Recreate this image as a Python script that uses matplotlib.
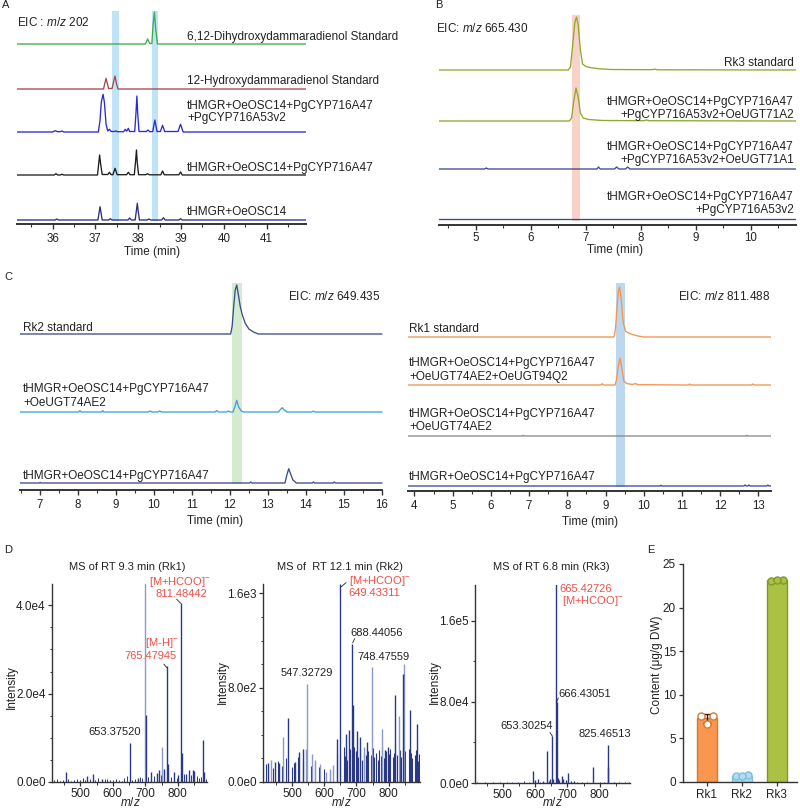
import numpy as np
import matplotlib.pyplot as plt
from matplotlib.ticker import MultipleLocator, FixedLocator

plt.rcParams['font.family'] = ['Liberation Sans', 'DejaVu Sans']
plt.rcParams['mathtext.fontset'] = 'custom'
plt.rcParams['mathtext.rm'] = 'Liberation Sans'
plt.rcParams['mathtext.it'] = 'Liberation Sans:italic'
plt.rcParams['font.size'] = 8.3
plt.rcParams['text.color'] = '#222222'
plt.rcParams['xtick.labelcolor'] = '#222222'
plt.rcParams['ytick.labelcolor'] = '#222222'

# ---------------- data: panel A (EIC m/z 202), time in min, height in px
a_dihydroxy_t = [35.17, 38.17, 38.22, 38.27, 38.32, 38.35, 38.38, 38.41, 38.45, 41.92]
a_dihydroxy_y = [0, 0, 5, 0.5, 0.5, 20, 32, 15, 0, 0]
a_hydroxy_t = [35.17, 37.19, 37.25, 37.31, 37.39, 37.43, 37.46, 37.49, 37.53, 41.92]
a_hydroxy_y = [0, 0, 10.7, 0.5, 0.5, 8, 13, 6, 0, 0]
a_cyp2_t = [35.17, 36.0, 36.06, 36.12, 36.18, 36.22, 36.26, 37.07, 37.11, 37.14,
            37.18, 37.21, 37.25, 37.29, 37.33, 37.37, 37.45, 37.48, 37.51, 37.66,
            37.70, 37.73, 37.77, 37.80, 37.92, 37.95, 37.97, 37.99, 38.02, 38.19,
            38.23, 38.27, 38.34, 38.39, 38.44, 38.52, 38.57, 38.62, 38.93, 38.99,
            39.05, 41.92]
a_cyp2_y = [0, 0, 1.3, 0.3, 0.3, 1, 0, 0, 12, 30,
            37.7, 30, 8, 1, 2.7, 0.5, 0.5, 1.2, 0.3, 0.3,
            2.7, 0.8, 3.7, 0.5, 0.5, 20, 36, 18, 0.5, 0.5,
            2, 0.3, 0.5, 12, 0.5, 0.5, 6.7, 0.5, 0.5, 7.7,
            0, 0]
a_cyp1_t = [35.17, 36.04, 36.08, 36.12, 36.18, 36.22, 36.26, 37.05, 37.08, 37.10,
            37.12, 37.16, 37.29, 37.33, 37.37, 37.41, 37.46, 37.51, 37.73, 37.77,
            37.81, 37.91, 37.94, 37.96, 37.98, 38.01, 38.18, 38.22, 38.26, 38.53,
            38.57, 38.61, 38.95, 38.99, 39.03, 41.92]
a_cyp1_y = [0, 0, 1.3, 0, 0, 0.8, 0, 0, 12, 20,
            12, 0.5, 0.5, 2.7, 0.3, 0.3, 6.7, 0.3, 0.3, 2.7,
            0.3, 0.3, 14, 25, 12, 0.3, 0.3, 1.3, 0.2, 0.2,
            4, 0.2, 0.2, 3, 0, 0]
a_osc_t = [35.17, 36.06, 36.1, 36.14, 37.06, 37.09, 37.11, 37.13, 37.16, 37.31,
           37.35, 37.39, 37.76, 37.8, 37.84, 37.93, 37.96, 37.98, 38.0, 38.03,
           38.21, 38.25, 38.29, 38.55, 38.59, 38.63, 38.95, 38.99, 39.03, 41.92]
a_osc_y = [0, 0, 1, 0, 0, 8, 13.3, 8, 0, 0,
           1.3, 0, 0, 2, 0, 0, 10, 16.7, 9, 0,
           0, 1, 0, 0, 2.3, 0, 0, 1.3, 0, 0]
a_labels = [['6,12-Dihydroxydammaradienol Standard'],
            ['12-Hydroxydammaradienol Standard'],
            ['tHMGR+OeOSC14+PgCYP716A47', '+PgCYP716A53v2'],
            ['tHMGR+OeOSC14+PgCYP716A47'],
            ['tHMGR+OeOSC14']]

# ---------------- panel B (EIC m/z 665.430)
b_rk3_t = [4.33, 6.68, 6.72, 6.76, 6.80, 6.83, 6.86, 6.90, 6.94, 7.0, 7.1, 7.25, 7.45, 8.2, 8.25, 8.3, 10.82]
b_rk3_y = [0, 0, 3, 25, 48, 53, 45, 20, 6, 3.5, 2.2, 1.2, 0.5, 0.3, 0.8, 0.2, 0]
b_a2_t = [4.33, 6.70, 6.74, 6.78, 6.82, 6.86, 6.90, 6.95, 7.05, 7.3, 8.05, 8.1, 8.15, 10.82]
b_a2_y = [0, 0, 3, 20, 33, 24, 8, 3, 1.5, 0.5, 0.3, 1, 0.3, 0]
b_a1_t = [4.33, 5.16, 5.19, 5.22, 7.20, 7.23, 7.26, 7.52, 7.56, 7.60, 7.72, 7.76, 7.80, 10.82]
b_a1_y = [0, 0, 1, 0, 0, 2, 0, 0, 2, 0, 0, 2, 0, 0]
b_ctrl_t = [4.33, 10.82]
b_ctrl_y = [0, 0]
b_labels = [['Rk3 standard'],
            ['tHMGR+OeOSC14+PgCYP716A47', '+PgCYP716A53v2+OeUGT71A2'],
            ['tHMGR+OeOSC14+PgCYP716A47', '+PgCYP716A53v2+OeUGT71A1'],
            ['tHMGR+OeOSC14+PgCYP716A47', '+PgCYP716A53v2']]

# ---------------- panel C left (EIC m/z 649.435)
c_rk2_t = [6.47, 12.02, 12.06, 12.1, 12.14, 12.18, 12.22, 12.27, 12.32, 12.4, 12.5, 12.62, 12.75, 16.0]
c_rk2_y = [0, 0, 8, 28, 44, 49, 40, 28, 20, 11, 5, 2, 0, 0]
c_ae2_t = [6.47, 8.02, 8.05, 8.08, 8.62, 8.65, 8.68, 9.85, 9.9, 9.95,
           10.1, 10.15, 10.2, 11.6, 11.65, 11.7, 11.92, 11.96, 12.0, 12.08,
           12.13, 12.18, 12.23, 12.3, 12.36, 13.28, 13.33, 13.38, 13.43, 13.5,
           14.15, 14.2, 14.25, 16.0]
c_ae2_y = [0, 0, 1.3, 0, 0, 1.3, 0, 0, 1, 0,
           0, 1, 0, 0, 1.3, 0, 0, 1, 0, 0,
           5, 11.7, 5, 1, 0, 0, 2.5, 4.3, 2, 0,
           0, 0.8, 0, 0]
c_ctrl_t = [6.47, 6.98, 7.0, 7.02, 12.52, 12.55, 12.58, 13.45, 13.5, 13.55,
            13.6, 13.66, 13.75, 14.17, 14.2, 14.23, 14.72, 14.75, 14.78, 16.0]
c_ctrl_y = [0, 0, 0.6, 0, 0, 1, 0, 0, 8, 14.3,
            9, 3, 0, 0, 1, 0, 0, 1, 0, 0]
c_labels = [['Rk2 standard'],
            ['tHMGR+OeOSC14+PgCYP716A47', '+OeUGT74AE2'],
            ['tHMGR+OeOSC14+PgCYP716A47']]

# ---------------- panel C right (EIC m/z 811.488)
c_rk1_t = [3.83, 9.22, 9.26, 9.3, 9.34, 9.37, 9.41, 9.46, 9.52, 9.6, 9.7, 9.85, 10.0, 13.33]
c_rk1_y = [0, 0, 8, 30, 47, 50, 38, 15, 6, 4, 2.5, 1, 0, 0]
c_q2_t = [3.83, 8.88, 8.91, 8.94, 9.25, 9.29, 9.33, 9.38, 9.43, 9.48, 9.55,
          9.7, 9.76, 9.8, 9.84, 11.17, 11.2, 11.23, 12.82, 12.85, 12.88, 13.33]
c_q2_y = [0, 0, 1.3, 0, 0, 6, 18, 26.7, 15, 4, 1.5,
          0.5, 1.2, 1.3, 0.3, 0, 1, 0, 0, 1, 0, 0]
c_ae2b_t = [3.83, 6.83, 6.85, 6.87, 12.68, 12.7, 12.72, 13.33]
c_ae2b_y = [0, 0, 0.7, 0, 0, 0.7, 0, 0]
c_ctrlb_t = [3.83, 10.43, 10.45, 10.47, 12.62, 12.65, 12.68, 12.72, 12.75, 12.78, 13.22, 13.25, 13.28, 13.33]
c_ctrlb_y = [0, 0, 0.8, 0, 0, 1, 0, 0, 1, 0, 0, 1, 0, 0]
c2_labels = [['Rk1 standard'],
             ['tHMGR+OeOSC14+PgCYP716A47', '+OeUGT74AE2+OeUGT94Q2'],
             ['tHMGR+OeOSC14+PgCYP716A47', '+OeUGT74AE2'],
             ['tHMGR+OeOSC14+PgCYP716A47']]

# ---------------- panel D: mass spectra (m/z, intensity)
d1_dark_mz = [455, 522, 538.6, 566, 653.4, 677, 701, 717.6, 736, 742, 758.6, 765.5, 770,
              789.5, 800, 811.5, 812.5, 825.6, 833.6, 846, 851, 878, 880]
d1_dark_int = [2260, 1360, 1890, 750, 8830, 980, 15100, 2260, 2040, 2790, 3020, 26200, 4150,
               2260, 1510, 40400, 6570, 1890, 2640, 2640, 2420, 9590, 2260]
d1_light_mz = [700, 750]
d1_light_int = [46000, 7920]
d1_noise_mz = [420, 428, 437, 446, 463, 472, 481, 490, 498, 507, 515, 530, 546, 555, 575,
               583, 591, 600, 609, 618, 627, 636, 645, 660, 668, 684, 690, 708, 726, 748,
               780, 797, 820, 840, 858, 866, 872, 886]
d1_noise_int = [400, 600, 300, 500, 700, 300, 450, 600, 350, 800, 500, 650, 400, 900, 600,
                750, 500, 400, 650, 550, 300, 800, 1300, 500, 700, 1200, 900, 1100, 1400, 1600,
                1200, 1000, 1800, 1500, 1300, 900, 1100, 700]

d2_dark_mz = [488.6, 649.4, 687.5, 689, 843, 820, 866.5, 889, 668, 678, 701, 711, 639,
              787, 799, 732, 522, 535, 426, 447, 460.6, 509]
d2_dark_int = [547, 1680, 1175, 650, 920, 736, 609, 495, 405, 439, 433, 382, 368,
               269, 297, 340, 255, 283, 161, 170, 161, 170]
d2_light_mz = [547.6, 471, 748.5, 848, 434, 542.5, 561, 571, 587, 605.6, 618, 626, 779, 833, 724]
d2_light_int = [835, 382, 977, 1005, 184, 277, 241, 184, 156, 85, 113, 142, 450, 560, 300]
d2_low_mz = [420, 440, 458, 470, 480, 500, 507, 520, 533, 560, 572, 585, 600, 618, 640,
             650, 660, 664, 668, 672, 680, 689, 692, 700, 704, 712, 716, 723, 728, 733,
             737, 745, 750, 754, 762, 766, 770, 775, 780, 784, 790, 800, 805, 812, 816,
             820, 825, 834, 838, 845, 849, 862, 866, 870, 873, 882, 886, 890, 895]
d2_low_int = [150, 120, 180, 140, 200, 130, 160, 210, 180, 140, 170, 130, 110, 90, 250,
              230, 300, 220, 260, 190, 280, 240, 300, 260, 210, 280, 190, 250, 230, 180,
              260, 230, 290, 210, 250, 190, 270, 220, 300, 200, 260, 240, 280, 210, 250,
              320, 230, 270, 210, 300, 260, 280, 220, 250, 200, 230, 270, 180, 240]

d3_mz = [665.4, 666.4, 653.3, 638.5, 825.5, 827, 779, 593, 703, 608.6, 683, 688, 696,
         721, 657, 647, 626, 670, 675, 710, 600, 642]
d3_int = [198000, 80000, 46000, 31600, 37000, 16000, 16000, 11500, 10000, 4300, 6600, 4300, 3300,
          2300, 4300, 3600, 1600, 5000, 3000, 2000, 2500, 2000]
d3_noise_mz = [420, 445, 470, 490, 512, 530, 548, 565, 580, 615, 730, 745, 760, 800, 815, 845, 860, 878, 890]
d3_noise_int = [600, 900, 700, 1100, 800, 1200, 900, 1500, 1000, 1300, 1200, 900, 1100, 1000, 1400,
                1200, 900, 1000, 700]

# ---------------- panel E: content
rk_names = ['Rk1', 'Rk2', 'Rk3']
rk1_points = [7.6, 7.62, 6.7]
rk2_points = [0.72, 0.75, 0.70]
rk3_points = [23.05, 23.15, 23.2]

# ---------------- layout helpers (pixel coordinates, origin top-left)
W, H = 800, 810
fig = plt.figure(figsize=(W / 100, H / 100), dpi=100)


def box(x0, y0, x1, y1):
    return fig.add_axes([x0 / W, 1 - y1 / H, (x1 - x0) / W, (y1 - y0) / H])


def put(x, y, s, ha='left', **kw):
    fig.text(x / W, 1 - y / H, s, ha=ha, va='center', **kw)


def leader(x0, y0, x1, y1):
    fig.add_artist(plt.Line2D([x0 / W, x1 / W], [1 - y0 / H, 1 - y1 / H], color='#222222', lw=0.6))


AX = '#333333'


def chrom(ax, xlim, ytop, pad=3):
    ax.set_xlim(*xlim)
    ax.set_ylim(0, ytop)
    for side in ('top', 'right', 'left'):
        ax.spines[side].set_visible(False)
    ax.spines['bottom'].set_linewidth(1.4)
    ax.spines['bottom'].set_color(AX)
    ax.set_yticks([])
    ax.xaxis.set_major_locator(MultipleLocator(1))
    ax.xaxis.set_minor_locator(MultipleLocator(0.5))
    ax.tick_params(axis='x', which='major', length=3.5, width=1, color=AX, pad=pad)
    ax.tick_params(axis='x', which='minor', length=2, width=0.8, color=AX)
    ax.patch.set_visible(False)


def band(ax, t0, t1, y0, y1, color):
    ax.fill_between([t0, t1], y0, y1, color=color, lw=0, zorder=0)


# ---------------- A
ax = box(17, 8, 306, 224)
chrom(ax, (35.17, 41.92), 216)
band(ax, 37.40, 37.56, 3, 213, '#BFE4F7')
band(ax, 38.32, 38.47, 3, 213, '#BFE4F7')
a_series = [(a_dihydroxy_t, a_dihydroxy_y, '#3FAA4A', 180),
            (a_hydroxy_t, a_hydroxy_y, '#A8474A', 135),
            (a_cyp2_t, a_cyp2_y, '#2B2BD6', 92),
            (a_cyp1_t, a_cyp1_y, '#1E1E1E', 49),
            (a_osc_t, a_osc_y, '#2A2F7E', 4)]
for t, y, c, off in a_series:
    ax.plot(t, np.array(y) + off, color=c, lw=0.95)
a_label_y = [[37], [81], [106.5, 118.5], [168], [212]]
for lines, ys in zip(a_labels, a_label_y):
    for s, yy in zip(lines, ys):
        put(187, yy, s, size=8.5)
put(17, 23, 'EIC : $\\mathit{m/z}$ 202', size=8.5)
put(152, 252, 'Time (min)', ha='center', size=8.5)
put(2, 5, 'A', size=8)

# ---------------- B
ax = box(439, 15, 796, 225)
chrom(ax, (4.33, 10.82), 210, pad=1.5)
band(ax, 6.74, 6.89, 4, 210, '#F8D2C6')
b_series = [(b_rk3_t, b_rk3_y, '#8DAA2C', 155),
            (b_a2_t, b_a2_y, '#8DAA2C', 104),
            (b_a1_t, b_a1_y, '#3A4A8C', 56),
            (b_ctrl_t, b_ctrl_y, '#3A4A8C', 6)]
for t, y, c, off in b_series:
    ax.plot(t, np.array(y) + off, color=c, lw=0.95)
b_label_y = [[63], [102.5, 115], [147, 160.5], [197, 210.5]]
for lines, ys in zip(b_labels, b_label_y):
    for s, yy in zip(lines, ys):
        put(794, yy, s, ha='right', size=8.5)
put(436, 29, 'EIC: $\\mathit{m/z}$ 665.430', size=8.5)
put(615, 250, 'Time (min)', ha='center', size=8.5)
put(435, 5, 'B', size=8)

# ---------------- C left
ax = box(20, 283, 382.5, 490)
chrom(ax, (6.47, 16.02), 207)
band(ax, 12.06, 12.31, 6, 207, '#D4EBD0')
c_series = [(c_rk2_t, c_rk2_y, '#3C4C8C', 156),
            (c_ae2_t, c_ae2_y, '#3FA0DF', 78),
            (c_ctrl_t, c_ctrl_y, '#3C4C8C', 7)]
for t, y, c, off in c_series:
    ax.plot(t, np.array(y) + off, color=c, lw=0.95)
c_label_y = [[328], [389, 403], [476]]
for lines, ys in zip(c_labels, c_label_y):
    for s, yy in zip(lines, ys):
        put(23, yy, s, size=8.5)
put(380, 297, 'EIC: $\\mathit{m/z}$ 649.435', ha='right', size=8.5)
put(215, 521, 'Time (min)', ha='center', size=8.5)
put(4, 277, 'C', size=8)

# ---------------- C right
ax = box(408, 283, 771, 491)
chrom(ax, (3.83, 13.33), 208)
band(ax, 9.27, 9.51, 4, 208, '#BCD7EE')
c2_series = [(c_rk1_t, c_rk1_y, '#F4944E', 154),
             (c_q2_t, c_q2_y, '#F4944E', 106),
             (c_ae2b_t, c_ae2b_y, '#8A8A8A', 55),
             (c_ctrlb_t, c_ctrlb_y, '#3C4C8C', 5)]
for t, y, c, off in c2_series:
    ax.plot(t, np.array(y) + off, color=c, lw=0.95)
c2_label_y = [[329], [363, 377], [414, 427], [477]]
for lines, ys in zip(c2_labels, c2_label_y):
    for s, yy in zip(lines, ys):
        put(409, yy, s, size=8.5)
put(770, 297, 'EIC: $\\mathit{m/z}$ 811.488', ha='right', size=8.5)
put(590, 522, 'Time (min)', ha='center', size=8.5)

# ---------------- D
DARK, LIGHT, RED = '#2B3885', '#8E9AC6', '#EE4F47'


def spectrum(ax, xlim, ytop, majors, labels, minor):
    ax.set_xlim(*xlim)
    ax.set_ylim(0, ytop)
    for side in ('top', 'right'):
        ax.spines[side].set_visible(False)
    for side in ('left', 'bottom'):
        ax.spines[side].set_color(AX)
        ax.spines[side].set_linewidth(1.0)
    ax.yaxis.set_major_locator(FixedLocator(majors))
    ax.set_yticklabels(labels)
    ax.yaxis.set_minor_locator(MultipleLocator(minor))
    ax.xaxis.set_major_locator(FixedLocator([500, 600, 700, 800]))
    ax.xaxis.set_minor_locator(MultipleLocator(50))
    ax.tick_params(which='major', length=3, width=0.9, color=AX, pad=1.5, labelsize=8.5)
    ax.tick_params(axis='x', which='major', pad=1)
    ax.tick_params(which='minor', length=1.8, width=0.7, color=AX)
    ax.patch.set_visible(False)


ax = box(52, 584, 207, 782)
spectrum(ax, (413, 890), 4.48e4, [0, 2e4, 4e4], ['0.0e0', '2.0e4', '4.0e4'], 5e3)
ax.vlines(d1_noise_mz, 0, d1_noise_int, color=DARK, lw=0.7)
ax.vlines(d1_light_mz, 0, d1_light_int, color=LIGHT, lw=1.0)
ax.vlines(d1_dark_mz, 0, d1_dark_int, color=DARK, lw=1.0)
put(127, 567, 'MS of RT 9.3 min (Rk1)', ha='center', size=8)
put(180, 581.7, '[M+HCOO]$^{-}$', ha='center', color=RED, size=8)
put(181, 594, '811.48442', ha='center', color=RED, size=8)
put(162, 643.3, '[M-H]$^{-}$', ha='center', color=RED, size=8)
put(150, 656, '765.47945', ha='center', color=RED, size=8)
put(114.5, 732.3, '653.37520', ha='center', size=8)
leader(176.7, 599.3, 180.7, 603.3)
leader(164, 664.3, 166.7, 667.5)
put(12, 687, 'Intensity', ha='center', rotation=90, size=8.5)
put(130, 802.5, '$\\mathit{m/z}$', ha='center', size=8.5)
put(4, 550, 'D', size=8)

ax = box(263, 584, 420, 782)
spectrum(ax, (410, 897), 1.68e3, [0, 8e2, 1.6e3], ['0.0e0', '8.0e2', '1.6e3'], 2e2)
ax.vlines(d2_low_mz, 0, d2_low_int, color=DARK, lw=0.8)
ax.vlines(d2_light_mz, 0, d2_light_int, color=LIGHT, lw=1.0)
ax.vlines(d2_dark_mz, 0, d2_dark_int, color=DARK, lw=1.0)
put(340, 567, 'MS of  RT 12.1 min (Rk2)', ha='center', size=8)
put(349.3, 580.7, '[M+HCOO]$^{-}$', color=RED, size=8)
put(348.3, 593.3, '649.43311', color=RED, size=8)
put(377, 632.7, '688.44056', ha='center', size=8)
put(383, 656.7, '748.47559', ha='center', size=8)
put(307, 673.3, '547.32729', ha='center', size=8)
leader(341.3, 586.7, 346, 582.7)
leader(352.7, 642.7, 354.7, 638.7)
put(223, 682, 'Intensity', ha='center', rotation=90, size=8.5)
put(341, 802.5, '$\\mathit{m/z}$', ha='center', size=8.5)

ax = box(475, 585, 630, 783)
spectrum(ax, (414, 894), 1.95e5, [0, 8e4, 1.6e5], ['0.0e0', '8.0e4', '1.6e5'], 4e4)
ax.vlines(d3_noise_mz, 0, d3_noise_int, color=DARK, lw=0.7)
ax.vlines(d3_mz, 0, d3_int, color=DARK, lw=1.0)
put(551, 567, 'MS of RT 6.8 min (Rk3)', ha='center', size=8)
put(559.3, 589.3, '665.42726', color=RED, size=8)
put(561.7, 600.5, '[M+HCOO]$^{-}$', color=RED, size=8)
put(558.3, 694.3, '666.43051', size=8)
put(527, 725.7, '653.30254', ha='center', size=8)
put(605, 734.3, '825.46513', ha='center', size=8)
leader(556.3, 702.7, 558.3, 698)
leader(550, 732.7, 552.3, 736)
put(435, 682, 'Intensity', ha='center', rotation=90, size=8.5)
put(552, 802.5, '$\\mathit{m/z}$', ha='center', size=8.5)

# ---------------- E
ax = box(683, 564, 797, 782)
xs = np.arange(len(rk_names))
rk_points = [rk1_points, rk2_points, rk3_points]
means = [np.mean(p) for p in rk_points]
sds = [np.std(p, ddof=1) for p in rk_points]
fills = ['#F9964F', '#AFDCF0', '#ABC143']
edges = ['#D9782F', '#7FBEDD', '#7F9A2A']
dot_face = ['white', '#AFDCF0', '#ABC143']
ax.bar(xs, means, width=0.57, color=fills, edgecolor=edges, lw=1, zorder=1)
ax.errorbar(xs, means, yerr=sds, fmt='none', ecolor='#222222', elinewidth=1, capsize=3, capthick=1, zorder=2)
for i, pts in enumerate(rk_points):
    ax.scatter(xs[i] + np.array([-0.17, 0.17, 0.0]), pts, s=26, facecolor=dot_face[i],
               edgecolor=edges[i], lw=1, zorder=3)
ax.set_xlim(-0.68, 2.58)
ax.set_ylim(0, 25)
ax.set_xticks(xs)
ax.set_xticklabels(rk_names)
ax.yaxis.set_major_locator(MultipleLocator(5))
for side in ('top', 'right'):
    ax.spines[side].set_visible(False)
for side in ('left', 'bottom'):
    ax.spines[side].set_color(AX)
    ax.spines[side].set_linewidth(1.0)
ax.tick_params(length=3, width=0.9, color=AX, pad=2, labelsize=8.5)
ax.patch.set_visible(False)
put(657, 665, 'Content (\u03bcg/g DW)', ha='center', rotation=90, size=8.5)
put(647, 550, 'E', size=8)

fig.savefig('out.png', dpi=100)
